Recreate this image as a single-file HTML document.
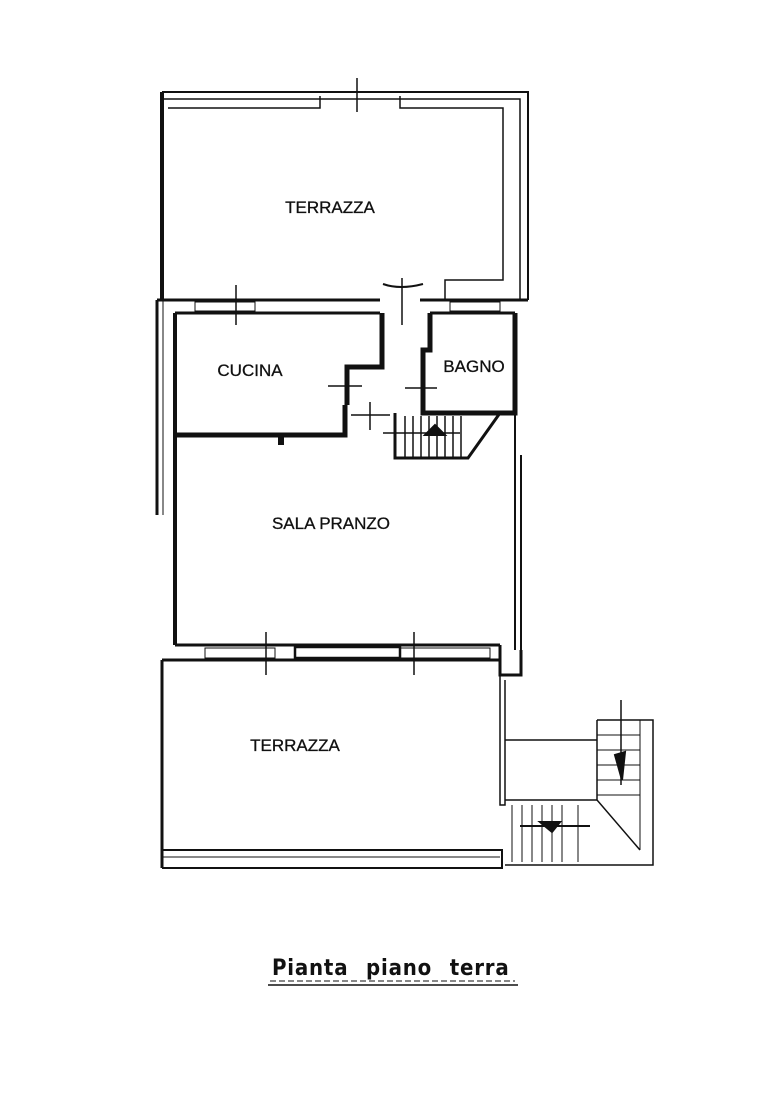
<!DOCTYPE html>
<html><head><style>body{margin:0;background:#fff}svg{display:block}</style></head><body>
<svg width="773" height="1098" viewBox="0 0 773 1098" xmlns="http://www.w3.org/2000/svg" font-family="Liberation Sans, sans-serif">
<g fill="none" stroke="#111" stroke-width="2">
<path d="M162 92 H528 V300"/>
<path d="M162 99 H520 V300" stroke-width="1.5"/>
<path d="M168 108 H320 V96 M400 96 V108 H503 V280 H445 V300" stroke-width="1.5"/>
<path d="M162 92 V300" stroke-width="4"/>
<line x1="357" y1="78" x2="357" y2="112" stroke-width="1.5"/>
<path d="M157 300 H380 M420 300 H528" stroke-width="3"/>
<path d="M175 313 H380 M430 313 H515" stroke-width="3"/>
<path d="M157 300 V515" stroke-width="3"/>
<path d="M163 300 V515" stroke-width="1"/>
<rect x="195" y="302" width="60" height="9" stroke-width="1"/>
<rect x="450" y="302" width="50" height="9" stroke-width="1"/>
<line x1="236" y1="285" x2="236" y2="325" stroke-width="1.5"/>
<path d="M383 284 Q400 290 423 284" stroke-width="2"/>
<line x1="402" y1="278" x2="402" y2="325" stroke-width="1.5"/>
<path d="M175 313 V645" stroke-width="4"/>
<path d="M175 435 H345 V405" stroke-width="5"/>
<path d="M382 313 V367 H347 V405" stroke-width="5"/>
<path d="M281 435 V445" stroke-width="6"/>
<line x1="328" y1="386" x2="362" y2="386" stroke-width="1.5"/>
<line x1="370" y1="402" x2="370" y2="430" stroke-width="1.5"/>
<line x1="351" y1="415" x2="390" y2="415" stroke-width="1.5"/>
<path d="M430 313 V350 H423 V413 H515 V313" stroke-width="5"/>
<path d="M515 313 V413" stroke-width="2"/>
<line x1="405" y1="388" x2="437" y2="388" stroke-width="1.5"/>
<path d="M395 413 V458 H468 L500 413" stroke-width="3"/>
<g stroke-width="1.5"><path d="M405 416 V458 M413 416 V458 M421 416 V458 M429 416 V458 M437 416 V458 M445 416 V458 M453 416 V458 M461 416 V458"/></g>
<line x1="383" y1="433" x2="460" y2="433" stroke-width="1.5"/>
<path d="M425 435 L435 425 L445 435 Z" fill="#111"/>
<path d="M515 413 V650" stroke-width="2"/>
<path d="M521 455 V650" stroke-width="2"/>
<path d="M175 645 H500 M162 660 H500 M500 645 V675 H521 V650" stroke-width="3"/>
<rect x="205" y="648" width="70" height="10" stroke-width="1"/>
<rect x="295" y="647" width="105" height="11" stroke-width="2.5"/>
<rect x="400" y="648" width="90" height="10" stroke-width="1"/>
<line x1="266" y1="632" x2="266" y2="675" stroke-width="1.5"/>
<line x1="414" y1="632" x2="414" y2="675" stroke-width="1.5"/>
<path d="M162 660 V868" stroke-width="3"/>
<path d="M162 850 H502 V868 H162" stroke-width="2"/>
<path d="M162 857 H500" stroke-width="1"/>
<path d="M500 675 V805 H505 V680" stroke-width="1.5"/>
<path d="M505 740 H597 M505 800 H597" stroke-width="1.5"/>
<path d="M597 720 H653 V865 H505" stroke-width="1.5"/>
<path d="M597 720 V800 L640 850" stroke-width="1.5"/>
<g stroke-width="1"><path d="M597 735 H640 M597 750 H640 M597 765 H640 M597 780 H640 M597 795 H640 M640 720 V850"/>
<path d="M512 805 V862 M522 805 V862 M532 805 V862 M542 805 V862 M552 805 V862 M562 805 V862 M578 805 V862"/></g>
<line x1="520" y1="826" x2="590" y2="826" stroke-width="2"/>
<line x1="621" y1="700" x2="621" y2="785" stroke-width="1.5"/>
<path d="M615 755 L625 752 L622 780 Z" fill="#111"/>
<path d="M540 822 H560 L552 832 Z" fill="#111"/>
<line x1="268" y1="985" x2="518" y2="985" stroke-width="1.5"/>
<line x1="270" y1="981" x2="515" y2="981" stroke-width="1" stroke-dasharray="6 3"/>
</g>
<g fill="#111" font-size="17" text-anchor="middle" stroke="#111" stroke-width="0.3">
<text x="330" y="213">TERRAZZA</text>
<text x="250" y="376">CUCINA</text>
<text x="474" y="372">BAGNO</text>
<text x="331" y="529">SALA PRANZO</text>
<text x="295" y="751">TERRAZZA</text>
</g>
<text x="272" y="975" font-size="22" font-weight="bold" letter-spacing="0.8" word-spacing="10" font-family="DejaVu Sans Condensed, DejaVu Sans, sans-serif" fill="#111">Pianta piano terra</text>
</svg>
</body></html>
